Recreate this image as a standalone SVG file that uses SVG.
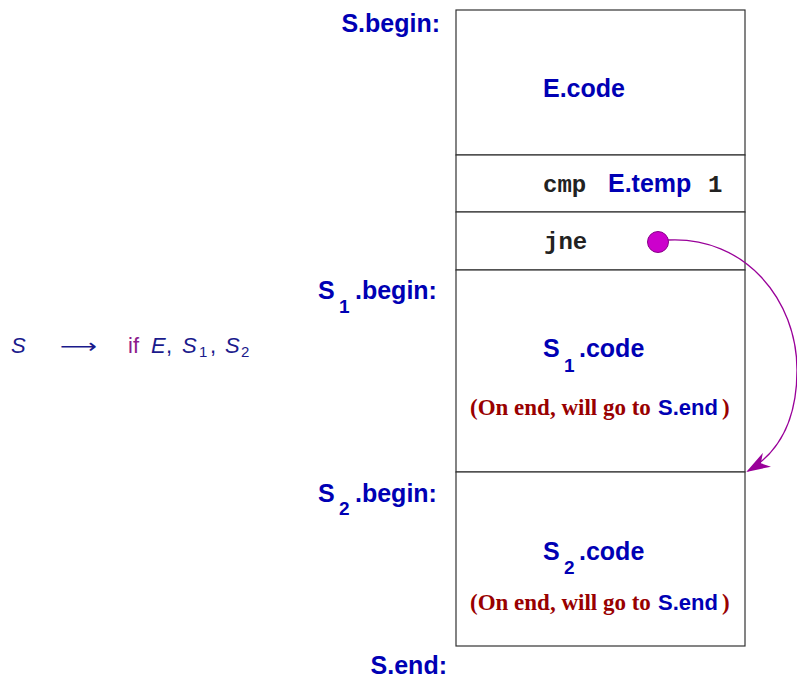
<svg xmlns="http://www.w3.org/2000/svg" width="797" height="680" viewBox="0 0 797 680">
<defs>
<style>
.lbl{font-family:"Liberation Sans",Arial,sans-serif;font-weight:bold;font-size:25px;fill:#0000b4}
.sub{font-family:"Liberation Sans",Arial,sans-serif;font-weight:bold;font-size:19px;fill:#0000b4}
.mono{font-family:"Liberation Mono","Courier New",monospace;font-weight:bold;font-size:24px;fill:#222}
.note{font-family:"Liberation Serif","Times New Roman",serif;font-weight:bold;font-size:23px;fill:#990000}
.notes{font-family:"Liberation Sans",Arial,sans-serif;font-weight:bold;font-size:22px;fill:#0000b4}
.box{fill:#fff;stroke:#333;stroke-width:1.2}
.math{font-family:"Liberation Sans","DejaVu Sans",sans-serif;font-size:22px;fill:#1a1a8c}
.msub{font-family:"Liberation Sans","DejaVu Sans",sans-serif;font-size:15px;fill:#1a1a8c}
</style>
<marker id="ah" viewBox="0 0 24 16" refX="22" refY="8" markerWidth="24" markerHeight="16" markerUnits="userSpaceOnUse" orient="auto">
<path d="M0,0 L24,8 L0,16 L7,8 Z" fill="#990099"/>
</marker>
</defs>

<g id="production">
<text class="math" x="11" y="353" font-style="italic">S</text>
<text x="60" y="353" font-family="DejaVu Sans,sans-serif" font-size="20" fill="#1a1a8c" textLength="37" lengthAdjust="spacingAndGlyphs">⟶</text>
<text class="math" x="128" y="353" style="fill:#8c1a8c">if</text>
<text class="math" x="151" y="353" font-style="italic">E</text>
<text class="math" x="166" y="353">,</text>
<text class="math" x="182" y="353" font-style="italic">S</text>
<text class="msub" x="199" y="357">1</text>
<text class="math" x="210" y="353">,</text>
<text class="math" x="225" y="353" font-style="italic">S</text>
<text class="msub" x="241" y="357">2</text>
</g>

<g id="labels">
<text class="lbl" x="440" y="32" text-anchor="end">S.begin:</text>
<text class="lbl" x="318" y="299">S</text><text class="sub" x="339" y="313">1</text><text class="lbl" x="355" y="299">.begin:</text>
<text class="lbl" x="318" y="502">S</text><text class="sub" x="339" y="515">2</text><text class="lbl" x="355" y="502">.begin:</text>
<text class="lbl" x="447" y="674" text-anchor="end">S.end:</text>
</g>

<g id="ecode">
<rect class="box" x="456" y="10" width="289" height="145"/>
<text class="lbl" x="543" y="97">E.code</text>
</g>

<g id="cmp">
<rect class="box" x="456" y="155" width="289" height="57"/>
<text class="mono" x="543" y="192">cmp</text>
<text class="lbl" x="608" y="192">E.temp</text>
<text class="mono" x="708" y="192">1</text>
</g>

<g id="jne">
<rect class="box" x="456" y="212" width="289" height="58"/>
<text class="mono" x="544" y="249">jne</text>
</g>

<g id="s1code">
<rect class="box" x="456" y="270" width="289" height="202"/>
<text class="lbl" x="543" y="357">S</text><text class="sub" x="564" y="372">1</text><text class="lbl" x="579" y="357">.code</text>
<text class="note" x="470" y="415">(On end, will go to</text>
<text class="notes" x="658" y="415">S.end</text>
<text class="note" x="722" y="415">)</text>
</g>

<g id="s2code">
<rect class="box" x="456" y="472" width="289" height="174"/>
<text class="lbl" x="543" y="560">S</text><text class="sub" x="564" y="574">2</text><text class="lbl" x="579" y="560">.code</text>
<text class="note" x="470" y="610">(On end, will go to</text>
<text class="notes" x="658" y="610">S.end</text>
<text class="note" x="722" y="610">)</text>
</g>

<g id="connectors">
<path d="M668,240 C745,236 797,300 797,370 C797,420 780,452 748,471" fill="none" stroke="#990099" stroke-width="1.3" marker-end="url(#ah)"/>
<circle cx="658" cy="242" r="10.5" fill="#cc00cc" stroke="#880088" stroke-width="1"/>
</g>
</svg>
